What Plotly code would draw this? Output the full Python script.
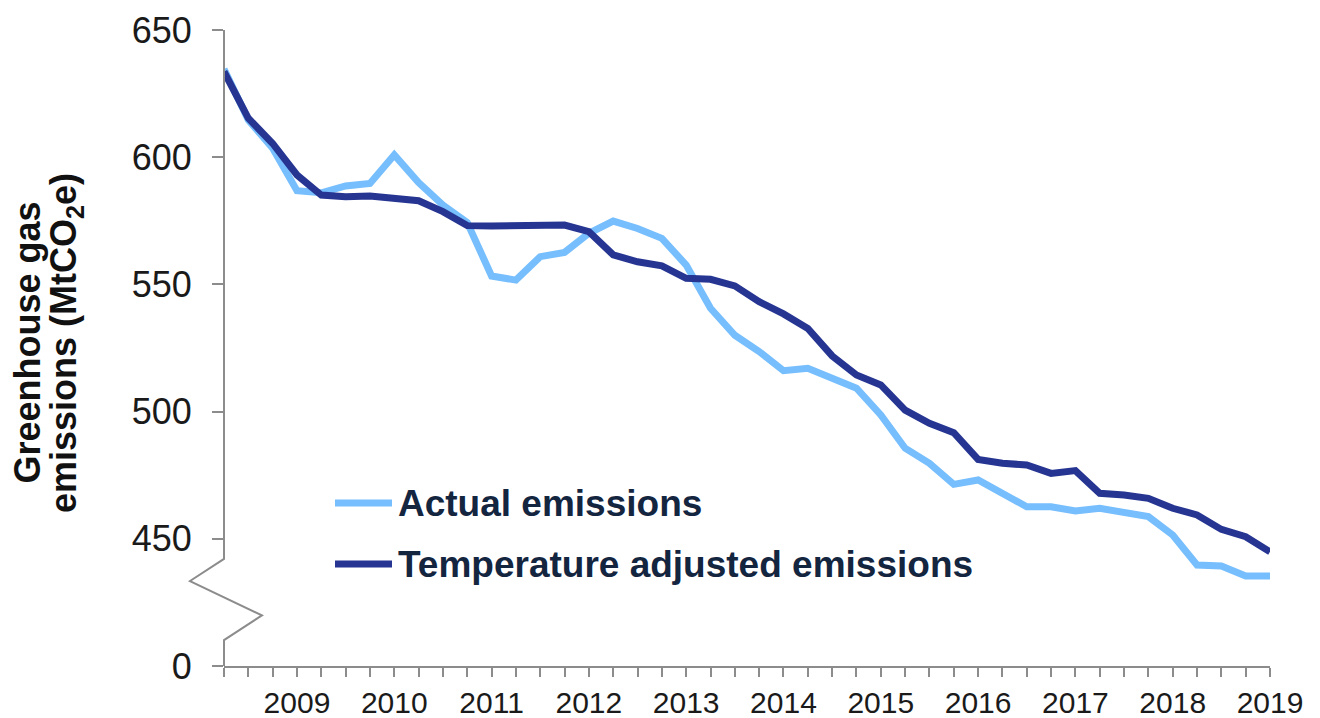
#%% IMPORTS

import plotly.graph_objects as go

#%% DATA

quarter_idx = list(range(44))

actual_emissions = [
    634.7, 614.6, 603.5, 586.8, 586.0, 588.7, 589.7, 600.9, 590.0, 581.2,
    574.3, 553.3, 551.7, 560.9, 562.6, 570.1, 574.9, 572.0, 568.1, 557.6,
    540.6, 530.0, 523.6, 516.1, 517.0, 513.1, 509.2, 498.7, 485.6, 479.7,
    471.4, 473.1, 467.9, 462.6, 462.6, 460.9, 462.0, 460.0, 458.7, 451.5,
    439.7, 439.3, 435.4, 435.4,
]

temp_adjusted = [
    633.6, 615.3, 605.4, 593.0, 585.1, 584.5, 584.7, 583.8, 582.9, 578.6,
    573.1, 573.0, 573.2, 573.6, 573.3, 570.7, 561.6, 558.9, 557.3, 552.4,
    552.0, 549.4, 543.2, 538.4, 532.7, 521.9, 514.4, 510.5, 500.6, 495.4,
    491.7, 481.2, 479.7, 479.0, 475.7, 476.8, 467.9, 467.2, 465.9, 462.0,
    459.4, 453.7, 450.8, 444.9,
]

year_ticks = [3, 7, 11, 15, 19, 23, 27, 31, 35, 39, 43]
year_labels = ['2009', '2010', '2011', '2012', '2013', '2014',
               '2015', '2016', '2017', '2018', '2019']

y_ticks = [400, 450, 500, 550, 600, 650]
y_labels = ['0', '450', '500', '550', '600', '650']

series_names = ['Actual emissions', 'Temperature adjusted emissions']

#%% STYLE

LIGHT = '#76BEFD'
DARK = '#263592'
AXIS_GREY = '#8C8C8C'
FONT = 'Liberation Sans, Arial, sans-serif'

# page body has an 8px margin, so the figure is 8px smaller each way
W, H = 1312, 710
ML, MR, MT, MB = 216, 50, 22, 52
PW, PH = W - ML - MR, H - MT - MB


def px_to_paper(xpx, ypx):
    # screen pixel -> paper coords
    return (xpx - 8 - ML) / PW, (H - MB - (ypx - 8)) / PH

#%% FIGURE

fig = go.Figure()

fig.add_trace(go.Scatter(
    x=quarter_idx, y=actual_emissions, mode='lines',
    name=series_names[0], line=dict(color=LIGHT, width=7),
    showlegend=False,
))
fig.add_trace(go.Scatter(
    x=quarter_idx, y=temp_adjusted, mode='lines',
    name=series_names[1], line=dict(color=DARK, width=7),
    showlegend=False,
))

fig.update_layout(
    width=W, height=H,
    margin=dict(l=ML, r=MR, t=MT, b=MB, autoexpand=False),
    plot_bgcolor='white', paper_bgcolor='white',
    font=dict(family=FONT, color='#1a1a1a'),
)

fig.update_xaxes(
    range=[0, 43], automargin=False,
    tickmode='array', tickvals=year_ticks, ticktext=year_labels,
    ticks='outside', ticklen=9, tickwidth=2, tickcolor=AXIS_GREY,
    minor=dict(dtick=1, tick0=0, ticks='outside', ticklen=9,
               tickwidth=2, tickcolor=AXIS_GREY),
    showline=True, linecolor=AXIS_GREY, linewidth=2,
    showgrid=False, zeroline=False,
    tickfont=dict(size=30, color='#1a1a1a'),
    ticklabelstandoff=0,
)

fig.update_yaxes(
    range=[400, 650], automargin=False,
    tickmode='array', tickvals=y_ticks, ticktext=y_labels,
    ticks='outside', ticklen=11, tickwidth=2, tickcolor=AXIS_GREY,
    showline=False, showgrid=False, zeroline=False,
    tickfont=dict(size=36, color='#1a1a1a'),
    ticklabelstandoff=13,
)

# axis line with break (zigzag) between 0 and 450
bx1 = px_to_paper(190, 0)[0]
bx2 = px_to_paper(262, 0)[0]
fig.add_shape(
    type='path', xref='paper', yref='y',
    path=f'M 0,650 L 0,442.1 L {bx1:.4f},433.4 L {bx2:.4f},419.9 L 0,410.2 L 0,400',
    line=dict(color=AXIS_GREY, width=2),
)

# y axis title, two lines
fig.add_annotation(
    text='<b>Greenhouse gas</b>', textangle=-90,
    xref='paper', yref='paper', x=0, y=0.5, xshift=-220, yshift=5,
    showarrow=False, font=dict(size=36, color='#111111'),
)
fig.add_annotation(
    text='<b>emissions (MtCO<sub>2</sub>e)</b>', textangle=-90,
    xref='paper', yref='paper', x=0, y=0.5, xshift=-183, yshift=5,
    showarrow=False, font=dict(size=36, color='#111111'),
)

# legend drawn by hand
legend_rows = [(503, LIGHT), (564, DARK)]
for name, (ypx, col) in zip(series_names, legend_rows):
    x0, yp = px_to_paper(335, ypx)
    x1, _ = px_to_paper(392, ypx)
    xt, _ = px_to_paper(396, ypx)
    fig.add_shape(
        type='line', xref='paper', yref='paper',
        x0=x0, x1=x1, y0=yp, y1=yp,
        line=dict(color=col, width=7),
    )
    fig.add_annotation(
        text=f'<b>{name}</b>', xref='paper', yref='paper',
        x=xt, y=yp, xanchor='left', yanchor='middle',
        showarrow=False, font=dict(size=37, color='#13253F'),
    )

fig.write_html('out.html')
